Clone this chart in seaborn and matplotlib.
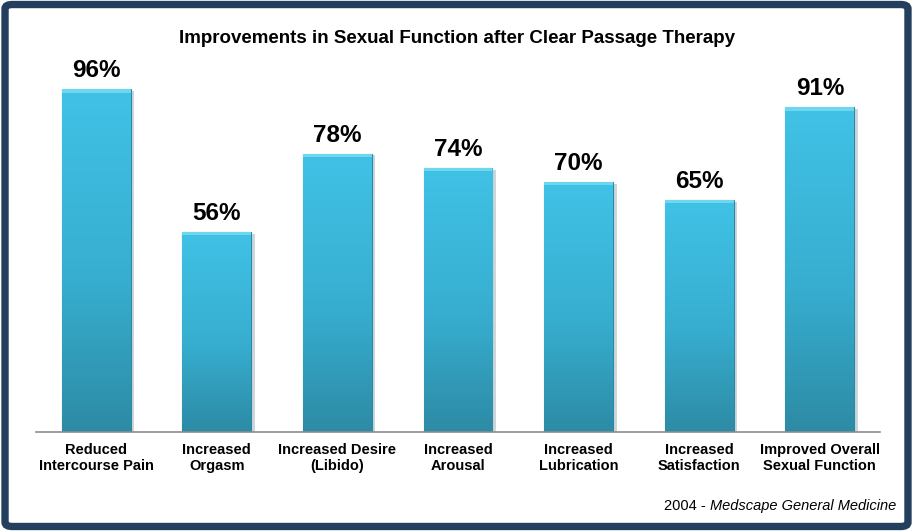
import numpy as np
import pandas as pd
import matplotlib
matplotlib.use('Agg')
import matplotlib.pyplot as plt
import seaborn as sns
from matplotlib.patches import FancyBboxPatch

# Data
categories = ['Reduced\nIntercourse Pain', 'Increased\nOrgasm', 'Increased Desire\n(Libido)',
              'Increased\nArousal', 'Increased\nLubrication', 'Increased\nSatisfaction',
              'Improved Overall\nSexual Function']
percent = [96, 56, 78, 74, 70, 65, 91]
title = 'Improvements in Sexual Function after Clear Passage Therapy'
source_year = '2004 - '
source_name = 'Medscape General Medicine'

sns.set_theme(style='white')
plt.rcParams['font.family'] = ['Liberation Sans', 'DejaVu Sans']

df = pd.DataFrame({'category': categories, 'percent': percent})

fig = plt.figure(figsize=(9.13, 5.31), dpi=100)
ax = fig.add_axes([0.0394, 0.1864, 0.9246, 0.672])

sns.barplot(data=df, x='category', y='percent', color='#3bb8dc', width=0.57,
            saturation=1, ax=ax, zorder=2)

# vertical gradient inside each bar (light cyan top -> darker teal bottom)
grad = np.linspace(0, 1, 256).reshape(-1, 1)
cmap = matplotlib.colors.LinearSegmentedColormap.from_list(
    'bar', [(0, '#2d8ba5'), (0.45, '#37aed0'), (1, '#40c2e6')])
for p in ax.patches:
    x0, y0 = p.get_x(), p.get_y()
    w, h = p.get_width(), p.get_height()
    p.set_edgecolor('#2a8aa6')
    p.set_linewidth(0.8)
    im = ax.imshow(grad, extent=[x0, x0 + w, y0, y0 + h], origin='lower', cmap=cmap,
                   aspect='auto', zorder=2.5)
    im.set_clip_path(p)
    # bevel highlight along top edge
    ax.fill_between([x0, x0 + w], y0 + h - 0.9, y0 + h, color='#6fd6f0', zorder=3,
                    linewidth=0)
    # soft shadow to the right
    ax.fill_between([x0 + w, x0 + w + 0.03], 0, y0 + h - 0.5, color='#cfd6da', zorder=1,
                    linewidth=0)
    ax.text(x0 + w / 2, h + 2.0, f'{h:.0f}%', ha='center', va='bottom',
            fontsize=17.5, fontweight='bold', color='black')

ax.set_xlim(-0.5, 6.5)
ax.set_ylim(0, 100)
ax.set_xlabel('')
ax.set_ylabel('')
ax.set_yticks([])
ax.tick_params(axis='x', length=0, pad=8)
for lbl in ax.get_xticklabels():
    lbl.set_fontsize(10.5)
    lbl.set_fontweight('bold')
    lbl.set_color('black')
for side in ['top', 'right', 'left']:
    ax.spines[side].set_visible(False)
ax.spines['bottom'].set_color('#8c8c8c')
ax.spines['bottom'].set_linewidth(1.2)

fig.text(0.5, 0.928, title, ha='center', va='center', fontsize=13.5, fontweight='bold',
         color='black')

src = fig.text(0.982, 0.047, source_name, ha='right', va='center', fontsize=10.5,
               style='italic', color='black')
ax.annotate(source_year, xy=(0, 0.5), xycoords=src, ha='right', va='center',
            fontsize=10.5, color='black', annotation_clip=False)

# navy frame around the whole picture
frame = FancyBboxPatch((0.0055, 0.0085), 0.989, 0.983, boxstyle='round,pad=0,rounding_size=0.008',
                       transform=fig.transFigure, facecolor='none', edgecolor='#243f5e',
                       linewidth=5.3, zorder=10)
fig.patches.append(frame)

fig.savefig('out.png', dpi=100)
